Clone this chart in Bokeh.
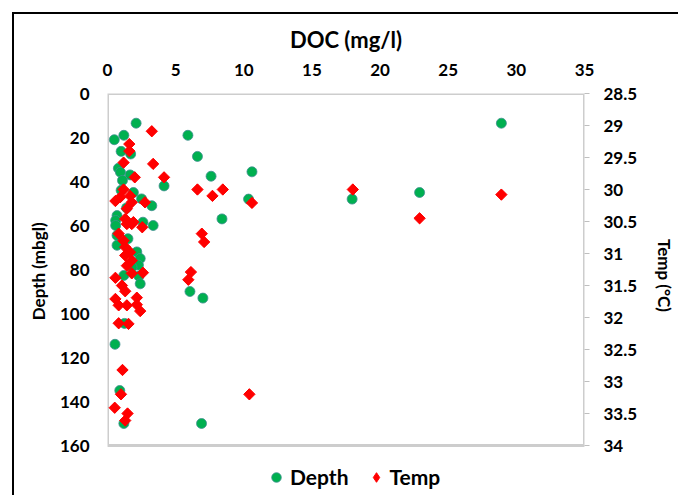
import numpy as np
from bokeh.plotting import figure
from bokeh.models import (Range1d, LinearAxis, FixedTicker, Legend, LegendItem,
                          BoxAnnotation)
from bokeh.embed import file_html
from bokeh.resources import INLINE

# ---- data ----
depth_doc = [28.9, 2.1, 5.9, 1.2, 0.5, 1.0, 1.7, 6.6, 0.8, 0.95, 1.66, 10.6, 7.6, 1.1,
             4.15, 1.9, 22.9, 2.5, 10.35, 17.95, 3.25, 0.7, 8.4, 0.6, 2.6, 0.6, 3.35,
             0.7, 0.7, 2.15, 2.4, 2.27, 1.2, 2.3, 2.4, 6.05, 7.0, 1.25, 0.55, 0.9, 1.2,
             6.9, 1.0, 1.4, 1.5, 1.8]
depth_m = [13.5, 13.5, 19, 19, 21, 26.3, 27.5, 28.6, 34, 35.8, 37, 35.6, 37.6, 39.5,
           42, 45, 45, 47.9, 48, 48, 51, 55.5, 57, 57.7, 58.5, 60, 60,
           64.5, 69, 72, 75, 78, 82.7, 83, 86.5, 90, 93, 104.5, 114, 135, 150,
           150, 44, 52, 66, 79]

temp_doc = [3.25, 1.6, 1.6, 1.18, 3.35, 2.0, 4.15, 1.18, 6.6, 8.46, 18.0, 7.7, 28.9,
            0.94, 1.66, 0.58, 1.78, 2.75, 10.6, 1.42, 22.9, 1.3, 1.9, 1.42, 1.78,
            2.55, 0.82, 6.92, 7.09, 1.18, 1.3, 1.66, 1.3, 1.78, 1.42, 6.12, 1.78,
            2.6, 0.58, 5.93, 1.06, 1.3, 0.58, 2.15, 0.82, 1.42, 2.15, 2.4, 0.82,
            1.54, 1.1, 0.99, 10.41, 0.53, 1.47, 1.3]
temp_c = [29.09, 29.29, 29.40, 29.58, 29.6, 29.81, 29.81, 30.0, 30.0, 30.0, 30.0,
          30.1, 30.08, 30.12, 30.1, 30.18, 30.2, 30.2, 30.21, 30.3, 30.45, 30.46,
          30.51, 30.54, 30.54, 30.59, 30.69, 30.69, 30.82, 30.8, 30.9, 30.98, 31.03,
          31.11, 31.19, 31.29, 31.31, 31.30, 31.38, 31.41, 31.5, 31.59, 31.71, 31.69,
          31.81, 31.81, 31.80, 31.9, 32.09, 32.1, 32.82, 33.2, 33.2, 33.41, 33.5, 33.61]

doc_ticks = [0, 5, 10, 15, 20, 25, 30, 35]
depth_ticks = [0, 20, 40, 60, 80, 100, 120, 140, 160]
temp_ticks = [28.5, 29, 29.5, 30, 30.5, 31, 31.5, 32, 32.5, 33, 33.5, 34]
temp_tick_labels = ["28.5", "29", "29.5", "30", "30.5", "31", "31.5", "32",
                    "32.5", "33", "33.5", "34"]
depth_lim = (0, 160)
temp_lim = (28.5, 34)
doc_lim = (0, 35)

FONT = "Lato"
GREEN = "#00B050"
RED = "#FF0000"
NBSP = "\u00a0"

# frame extends below the axes box to host the legend (445 -> 490 px)
EXT = (490 - 93) / (445 - 93)
depth_end = depth_lim[0] + (depth_lim[1] - depth_lim[0]) * EXT
temp_end = temp_lim[0] + (temp_lim[1] - temp_lim[0]) * EXT

p = figure(width=678, height=495, x_range=Range1d(*doc_lim),
           y_range=Range1d(depth_end, depth_lim[0]),
           x_axis_location="above", output_backend="svg", toolbar_location=None,
           min_border_left=107, min_border_top=93, min_border_right=87,
           min_border_bottom=5)
p.extra_y_ranges = {"temp": Range1d(temp_end, temp_lim[0])}
p.grid.visible = False
p.outline_line_color = None
p.background_fill_alpha = 0
p.border_fill_alpha = 0
p.styles = {"box-shadow": "inset 12px 12px 0 0 white, inset 14px 14px 0 0 black"}

# plot-area box
p.add_layout(BoxAnnotation(left=doc_lim[0], right=doc_lim[1], top=depth_lim[0],
                           bottom=depth_lim[1], fill_color="white", fill_alpha=0,
                           line_color="#595959", line_width=3, level="underlay"))

def style_axis(ax, size="17px"):
    ax.major_label_text_font = FONT
    ax.major_label_text_font_style = "bold"
    ax.major_label_text_font_size = size
    ax.major_label_text_color = "black"
    ax.axis_label_text_font = FONT
    ax.axis_label_text_font_style = "bold"
    ax.axis_label_text_font_size = "17px"
    ax.axis_label_text_color = "black"
    ax.axis_line_color = None
    ax.minor_tick_line_color = None

xa = p.xaxis[0]
style_axis(xa)
xa.ticker = FixedTicker(ticks=doc_ticks)
xa.axis_label = "DOC (mg/l)"
xa.axis_label_text_font_size = "22px"
xa.major_tick_line_color = None
xa.major_tick_out = 0
xa.major_label_standoff = 18
xa.axis_label_standoff = 8

ya = p.yaxis[0]
style_axis(ya)
ya.ticker = FixedTicker(ticks=depth_ticks)
ya.axis_label = NBSP * 10 + "Depth (mbgl)"
ya.major_tick_line_color = None
ya.major_tick_out = 0
ya.major_label_standoff = 18
ya.axis_label_standoff = 8

ra = LinearAxis(y_range_name="temp", axis_label="Temp (°C)" + NBSP * 8)
style_axis(ra)
ra.ticker = FixedTicker(ticks=temp_ticks)
ra.major_label_overrides = {t: l for t, l in zip(temp_ticks, temp_tick_labels)}
ra.major_tick_line_color = "#bfbfbf"
ra.major_tick_out = 5
ra.major_tick_in = 0
ra.major_label_standoff = 14
ra.axis_label_standoff = 14
p.add_layout(ra, "right")

r_depth = p.scatter(depth_doc, depth_m, marker="circle", size=10, fill_color=GREEN,
                    line_color="#3f8f8f", line_width=0.8)
# diamond-shaped layer (gives the legend its diamond key), covered by the markers below
r_temp_key = p.scatter(temp_doc, temp_c, marker="diamond", size=10, fill_color=RED,
                       line_color=RED, y_range_name="temp")
r_temp = p.scatter(temp_doc, temp_c, marker="square", angle=np.pi / 4, size=8,
                   fill_color=RED, line_color=RED, y_range_name="temp")

legend = Legend(items=[LegendItem(label="Depth", renderers=[r_depth]),
                       LegendItem(label="Temp", renderers=[r_temp_key])],
                orientation="horizontal", location=(157, 1))
legend.label_text_font = FONT
legend.label_text_font_style = "bold"
legend.label_text_font_size = "21px"
legend.label_text_color = "black"
legend.glyph_width = 24
legend.glyph_height = 24
legend.label_height = 24
legend.label_standoff = 2
legend.spacing = 15
legend.padding = 0
legend.margin = 0
legend.border_line_color = None
legend.background_fill_alpha = 0
p.add_layout(legend, "center")

open("out.html", "w").write(file_html(p, INLINE))
